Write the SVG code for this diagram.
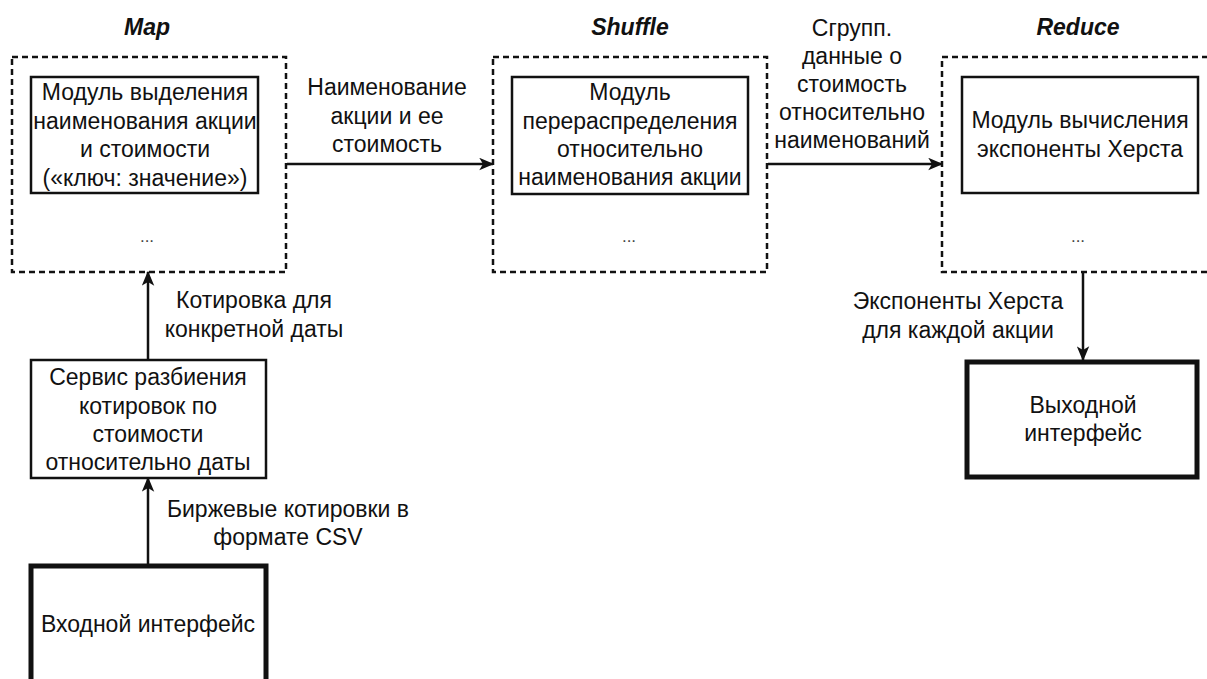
<svg xmlns="http://www.w3.org/2000/svg" width="1207" height="679" viewBox="0 0 1207 679">
<style>
.t{font-family:"Liberation Sans",Arial,sans-serif;font-size:23px;fill:#111;text-anchor:middle}
.h{font-family:"Liberation Sans",Arial,sans-serif;font-size:23px;font-weight:bold;font-style:italic;fill:#111;text-anchor:middle}
.d{font-family:"Liberation Sans",Arial,sans-serif;font-size:17px;fill:#444;text-anchor:middle}
.grp{fill:none;stroke:#111;stroke-width:2.5;stroke-dasharray:6 4}
.box{fill:#fff;stroke:#111;stroke-width:2.5}
.io{fill:#fff;stroke:#111;stroke-width:5}
.c{fill:none;stroke:#111;stroke-width:2.5;marker-end:url(#ah)}
</style>
<defs>
<marker id="ah" viewBox="0 0 12 10" refX="11" refY="5" markerUnits="userSpaceOnUse" markerWidth="15" markerHeight="13" orient="auto">
<path d="M0,0 L12,5 L0,10 L3,5 Z" fill="#111"/>
</marker>
</defs>
<rect width="1207" height="679" fill="#fff"/>

<g id="map">
<text class="h" x="147" y="35">Map</text>
<rect class="grp" x="12" y="57" width="274" height="215"/>
<g id="map-module">
<rect class="box" x="31" y="77" width="227" height="116"/>
<text class="t" x="145" y="100">Модуль выделения</text>
<text class="t" x="145" y="128.5">наименования акции</text>
<text class="t" x="145" y="157">и стоимости</text>
<text class="t" x="145" y="185.5">(«ключ: значение»)</text>
</g>
<text class="d" x="147" y="242">...</text>
</g>

<g id="shuffle">
<text class="h" x="630" y="35">Shuffle</text>
<rect class="grp" x="493" y="57" width="274" height="215"/>
<g id="shuffle-module">
<rect class="box" x="512" y="77" width="236" height="117"/>
<text class="t" x="630" y="100">Модуль</text>
<text class="t" x="630" y="128.5">перераспределения</text>
<text class="t" x="630" y="157">относительно</text>
<text class="t" x="630" y="185">наименования акции</text>
</g>
<text class="d" x="629" y="242">...</text>
</g>

<g id="reduce">
<text class="h" x="1078" y="35">Reduce</text>
<rect class="grp" x="942" y="57" width="280" height="215"/>
<g id="reduce-module">
<rect class="box" x="962" y="77" width="236" height="116"/>
<text class="t" x="1080" y="128">Модуль вычисления</text>
<text class="t" x="1080" y="157">экспоненты Херста</text>
</g>
<text class="d" x="1078" y="242">...</text>
</g>

<g id="service">
<rect class="box" x="31" y="360" width="235" height="118"/>
<text class="t" x="148" y="385">Сервис разбиения</text>
<text class="t" x="148" y="413.5">котировок по</text>
<text class="t" x="148" y="442">стоимости</text>
<text class="t" x="148" y="470">относительно даты</text>
</g>

<g id="input">
<rect class="io" x="31" y="566" width="235" height="150"/>
<text class="t" x="148" y="632">Входной интерфейс</text>
</g>

<g id="output">
<rect class="io" x="967" y="362" width="230" height="115"/>
<text class="t" x="1083" y="413">Выходной</text>
<text class="t" x="1083" y="441">интерфейс</text>
</g>

<g id="connectors">
<line class="c" x1="287" y1="164" x2="493" y2="164"/>
<line class="c" x1="768" y1="164" x2="942" y2="164"/>
<line class="c" x1="148" y1="360" x2="148" y2="272"/>
<line class="c" x1="148" y1="564" x2="148" y2="478"/>
<line class="c" x1="1083" y1="273" x2="1083" y2="360"/>
<text class="t" x="387" y="95">Наименование</text>
<text class="t" x="387" y="123.5">акции и ее</text>
<text class="t" x="387" y="152">стоимость</text>
<text class="t" x="852" y="36">Сгрупп.</text>
<text class="t" x="852" y="64">данные о</text>
<text class="t" x="852" y="92">стоимость</text>
<text class="t" x="852" y="120">относительно</text>
<text class="t" x="852" y="148">наименований</text>
<text class="t" x="254" y="308">Котировка для</text>
<text class="t" x="254" y="337">конкретной даты</text>
<text class="t" x="288" y="517">Биржевые котировки в</text>
<text class="t" x="288" y="545">формате CSV</text>
<text class="t" x="958" y="309">Экспоненты Херста</text>
<text class="t" x="958" y="338">для каждой акции</text>
</g>
</svg>
